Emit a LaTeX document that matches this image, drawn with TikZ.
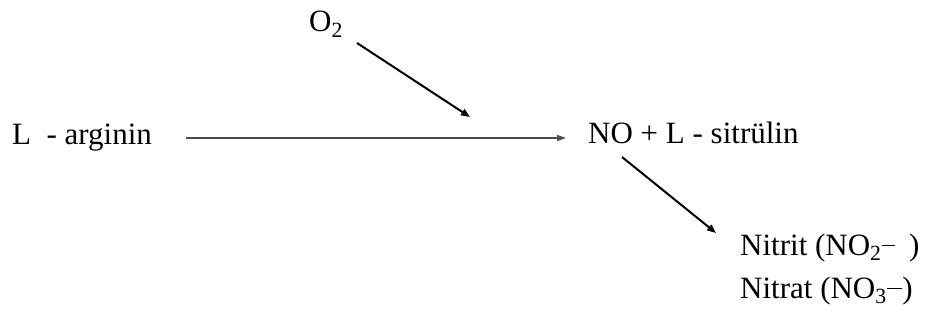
\documentclass[tikz,border=0pt]{standalone}
\usepackage{fontspec}
\setmainfont{Liberation Serif}
\usetikzlibrary{arrows.meta,positioning}

\begin{document}
\begin{tikzpicture}[
  x=1pt, y=-1pt,
  txt/.style={anchor=base west, inner sep=0pt, font=\fontsize{31}{36}\selectfont},
  arr/.style={-{Triangle[length=9pt,width=7pt]}, line width=2pt},
  flow/.style={-{Triangle[length=9pt,width=6pt]}, line width=1.3pt, black!70}
]
\useasboundingbox (0,0) rectangle (925,321);
\node[txt] (o2) at (309,32) {O\textsubscript{2}};
\node[txt] (arg) at (12,144) {L\ \ - arginin};
\node[txt] (no) at (588,143) {NO + L - sitrülin};
\node[txt] (nitrit) at (740,255) {Nitrit (NO\textsubscript{2}\textsuperscript{\rule{0.6em}{0.06em}}\hspace{0.45em})};
\node[txt] (nitrat) at (740,298) {Nitrat (NO\textsubscript{3}\textsuperscript{\rule{0.7em}{0.06em}})};
\coordinate (o2end) at (470,117);
% reactions
\draw[flow] ([shift={(174,-6)}]arg.base west) -- ([shift={(-22,-5)}]no.base west);
\draw[arr] ([shift={(48,11)}]o2.base west) -- (o2end);
\draw[arr] ([shift={(34,14)}]no.base west) -- ([shift={(-24,-22)}]nitrit.base west);
\end{tikzpicture}
\end{document}
